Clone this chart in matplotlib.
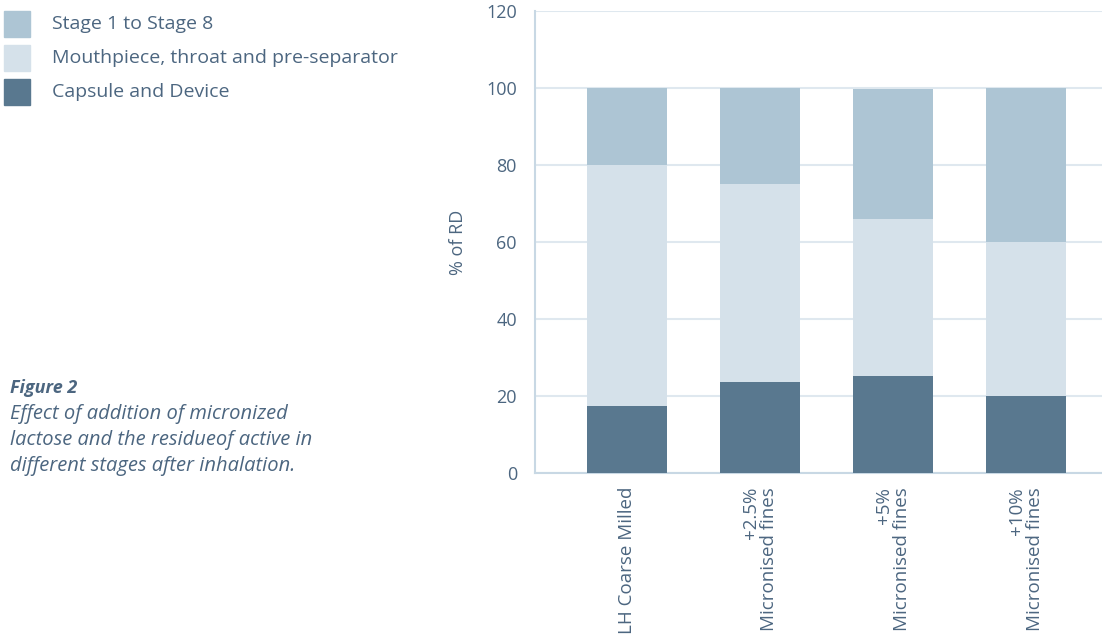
import matplotlib
matplotlib.use('AGG')
import matplotlib.pyplot as plt
from matplotlib.patches import Rectangle
import numpy as np

categories = ['LH Coarse Milled', '+2.5%\nMicronised fines',
              '+5%\nMicronised fines', '+10%\nMicronised fines']
capsule = [17.3, 23.6, 25.1, 20.1]
mouthpiece = [62.7, 51.4, 40.9, 39.9]
stages = [20.0, 25.0, 33.8, 40.0]
series_names = ['Stage 1 to Stage 8', 'Mouthpiece, throat and pre-separator',
                'Capsule and Device']
y_ticks = [0, 20, 40, 60, 80, 100, 120]

c_stage = '#adc5d4'
c_mouth = '#d5e1ea'
c_caps = '#59788f'
c_text = '#4c6680'
c_grid = '#dfe8ef'
c_spine = '#c8d8e4'

plt.rcParams['font.family'] = ['Open Sans', 'DejaVu Sans']

fig = plt.figure(figsize=(11.02, 6.41), dpi=100)
ax = fig.add_axes([535 / 1102, 1 - 473 / 641, 1 - 535 / 1102, 462 / 641])

x = np.arange(len(categories))
w = 0.6
ax.bar(x, capsule, w, color=c_caps, zorder=3)
ax.bar(x, mouthpiece, w, bottom=capsule, color=c_mouth, zorder=3)
bottom2 = np.array(capsule) + np.array(mouthpiece)
ax.bar(x, stages, w, bottom=bottom2, color=c_stage, zorder=3)

ax.set_xlim(-0.69, 3.57)
ax.set_ylim(0, 120)
ax.set_yticks(y_ticks)
ax.yaxis.grid(True, color=c_grid, linewidth=1.5, zorder=0)
ax.set_axisbelow(True)
for s in ['top', 'right']:
    ax.spines[s].set_visible(False)
for s in ['left', 'bottom']:
    ax.spines[s].set_color(c_spine)
    ax.spines[s].set_linewidth(1.5)
ax.tick_params(axis='both', length=0, colors=c_text, labelsize=13)
ax.tick_params(axis='y', pad=13)
ax.tick_params(axis='x', pad=10)
ax.set_xticks(x)
ax.set_xticklabels(categories, rotation=90, multialignment='right', fontsize=13.5,
                   linespacing=1.05)
ax.set_ylabel('% of RD', color=c_text, fontsize=13, labelpad=14)

# legend drawn by hand
legend_colors = [c_stage, c_mouth, c_caps]
for i, (name, col) in enumerate(zip(series_names, legend_colors)):
    top = 11 + i * 34
    fig.patches.append(Rectangle((4 / 1102, 1 - (top + 26) / 641), 26 / 1102, 26 / 641,
                                 transform=fig.transFigure, color=col))
    fig.text(52 / 1102, 1 - (top + 13) / 641, name, color=c_text, fontsize=14,
             va='center', ha='left')

fig.text(10 / 1102, 1 - 388 / 641, 'Figure 2', color=c_text, fontsize=13,
         fontweight='bold', fontstyle='italic', va='center')
caption = ['Effect of addition of micronized', 'lactose and the residueof active in',
           'different stages after inhalation.']
for i, line in enumerate(caption):
    fig.text(10 / 1102, 1 - (414 + 26 * i) / 641, line, color=c_text, fontsize=14.5,
             fontstyle='italic', va='center')

plt.savefig('out.png', dpi=100)
